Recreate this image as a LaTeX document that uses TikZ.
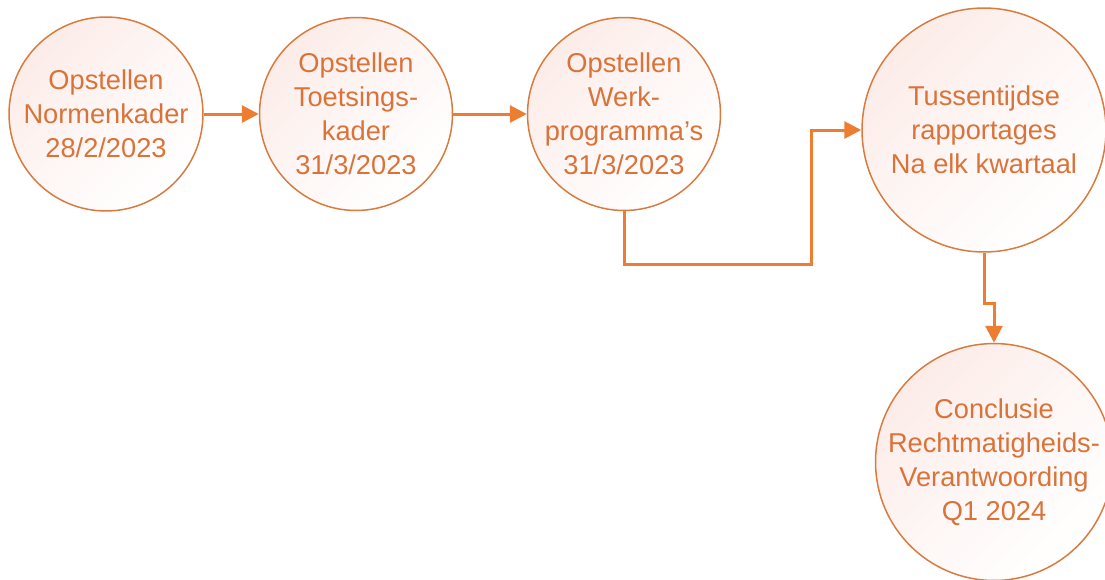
\documentclass[tikz,border=0pt]{standalone}
\usepackage{fontspec}
\setmainfont{Liberation Sans}
\usetikzlibrary{arrows.meta,positioning,calc}
\definecolor{txtorange}{HTML}{D9733A}
\definecolor{rimorange}{HTML}{D97B3E}
\definecolor{lineorange}{HTML}{ED7D31}
\definecolor{blush}{HTML}{FCECE8}
\tikzset{
  stage/.style={circle, draw=rimorange, line width=0.85pt, top color=blush, bottom color=white, middle color=blush!45!white, shading angle=45, text=txtorange, align=center, inner sep=-5mm, font=\fontsize{15.5}{19.4}\selectfont},
  flow/.style={-{Triangle[length=3.4mm,width=3.4mm]}, line width=1.7pt, draw=lineorange}
}

\begin{document}
\begin{tikzpicture}[x=0.02cm, y=-0.02cm]
  \useasboundingbox (0,0) rectangle (1105,579);
  \clip (0,0) rectangle (1105,579);
  \node[stage, minimum size=3.88cm] (norm) at (106,114) {Opstellen\\Normenkader\\28/2/2023};
  \node[stage, minimum size=3.86cm] (toets) at (356,114) {Opstellen\\Toetsings-\\kader\\31/3/2023};
  \node[stage, minimum size=3.86cm] (werk) at (624,114) {Opstellen\\Werk-\\programma's\\31/3/2023};
  \node[stage, minimum size=4.88cm] (tuss) at (984,130) {Tussentijdse\\rapportages\\Na elk kwartaal};
  \node[stage, minimum size=4.74cm] (concl) at (994,462) {Conclusie\\Rechtmatigheids-\\Verantwoording\\Q1 2024};
  % elbows of the routed connectors
  \coordinate (jogA) at (811,264);
  \coordinate (jogB) at (994,303);
  \draw[flow] (norm.east) -- (toets.west);
  \draw[flow] (toets.east) -- (werk.west);
  \draw[flow] (werk.south) |- (jogA) |- (tuss.west);
  \draw[flow] (tuss.south) |- (jogB) -- (concl.north);
\end{tikzpicture}
\end{document}
